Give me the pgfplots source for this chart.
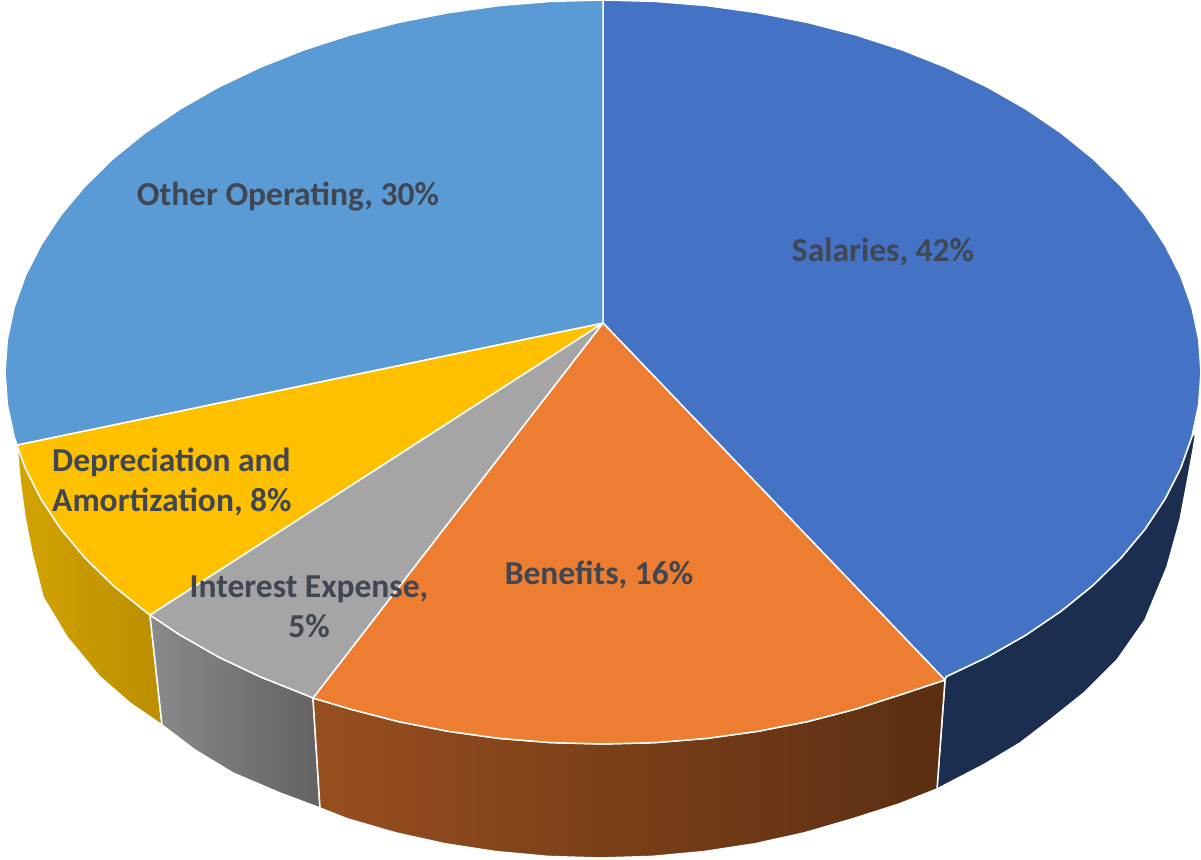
\documentclass[border=0pt]{standalone}
\usepackage{pgfplots}
\pgfplotsset{compat=1.18}
\usepackage{fontspec}
\setmainfont{Carlito}
\definecolor{salaries}{HTML}{4472C4}
\definecolor{benefits}{HTML}{ED7D31}
\definecolor{interest}{HTML}{A5A5A5}
\definecolor{deprec}{HTML}{FFC000}
\definecolor{other}{HTML}{5B9BD5}
\definecolor{salwall}{HTML}{1B2E50}
\definecolor{depwallA}{HTML}{D2A300}
\definecolor{depwallB}{HTML}{BB8E00}
\definecolor{intwallA}{HTML}{8A8A8A}
\definecolor{intwallB}{HTML}{626262}
\definecolor{benwallA}{HTML}{984F1F}
\definecolor{benwallB}{HTML}{5A2E12}
\definecolor{lab}{HTML}{404652}
\tikzset{slice label/.style={font=\fontsize{33.5}{40}\selectfont\bfseries, text=lab, inner sep=0pt}}
\begin{document}
\begin{tikzpicture}
\path[use as bounding box] (0,0) rectangle (1201pt,859pt);
\begin{axis}[
  at={(0,0)}, anchor=south west,
  scale only axis, width=1201pt, height=859pt,
  xmin=0, xmax=1201, ymin=0, ymax=859, y dir=reverse,
  hide axis,
  every axis plot/.append style={line join=round, no markers},
]
% Side walls of the pie, back to front
\addplot[draw=white, line width=1.5pt, fill=salwall] coordinates {
 (945,680) (946,676.7) (987.4,657) (1025.9,635) (1061.1,611.1) (1092.9,585.4)
 (1120.9,558) (1145,529.2) (1164.9,499.2) (1180.6,468.3) (1191.9,436.6) (1196,432)
 (1193,450) (1187,483) (1180,520) (1167,567) (1145,620) (1117,660) (1085,692)
 (1050,720) (1020,743) (985,764) (937,789)
} -- cycle;
\addplot[draw=white, line width=1.5pt, left color=depwallA, right color=depwallB] coordinates {
 (17,445) (25.4,468.3) (41.1,499.2) (61,529.2) (85.1,558) (113.1,585.4) (144.9,611.1)
 (150,615) (162,725) (130,703) (100,677) (67,637) (43,597) (32,553) (25,517) (20,480)
} -- cycle;
\addplot[draw=white, line width=1.5pt, left color=intwallA, right color=intwallB] coordinates {
 (150,615) (180.1,635) (218.6,657) (260,676.7) (304,694.2) (313,698)
 (320,808) (280,793) (233,773) (195,750) (162,725)
} -- cycle;
\addplot[draw=white, line width=1.5pt, left color=benwallA, right color=benwallB] coordinates {
 (313,698) (350.3,709.1) (398.5,721.6) (448.2,731.3) (499.2,738.4) (550.9,742.6)
 (603,744) (655.1,742.6) (706.8,738.4) (757.8,731.3) (807.5,721.6) (855.7,709.1)
 (902,694.2) (945,680) (937,789) (899,804) (852.7,818.8) (804.5,832.8) (754.8,843.8)
 (703.8,851.6) (652.1,856.4) (600,858) (547.9,856.4) (496.2,851.6) (445.2,843.8)
 (395.5,832.8) (347.3,818.8) (320,808)
} -- cycle;
% Top faces of the five slices
\addplot[draw=white, line width=1.5pt, fill=salaries] coordinates {
 (603,323) (603,0) (655.1,1.4) (706.8,5.6) (757.8,12.7) (807.5,22.4) (855.7,34.9)
 (902,49.8) (946,67.3) (987.4,87) (1025.9,109) (1061.1,132.9) (1092.9,158.6)
 (1120.9,186) (1145,214.8) (1164.9,244.8) (1180.6,275.7) (1191.9,307.4) (1198.7,339.6)
 (1201,372) (1198.7,404.4) (1191.9,436.6) (1180.6,468.3) (1164.9,499.2) (1145,529.2)
 (1120.9,558) (1092.9,585.4) (1061.1,611.1) (1025.9,635) (987.4,657) (946,676.7) (945,680)
} -- cycle;
\addplot[draw=white, line width=1.5pt, fill=benefits] coordinates {
 (603,323) (945,680) (902,694.2) (855.7,709.1) (807.5,721.6) (757.8,731.3) (706.8,738.4)
 (655.1,742.6) (603,744) (550.9,742.6) (499.2,738.4) (448.2,731.3) (398.5,721.6)
 (350.3,709.1) (313,698)
} -- cycle;
\addplot[draw=white, line width=1.5pt, fill=interest] coordinates {
 (603,323) (313,698) (304,694.2) (260,676.7) (218.6,657) (180.1,635) (150,615)
} -- cycle;
\addplot[draw=white, line width=1.5pt, fill=deprec] coordinates {
 (603,323) (150,615) (144.9,611.1) (113.1,585.4) (85.1,558) (61,529.2) (41.1,499.2)
 (25.4,468.3) (17,445)
} -- cycle;
\addplot[draw=white, line width=1.5pt, fill=other] coordinates {
 (603,323) (17,445) (14.1,436.6) (7.3,404.4) (5,372) (7.3,339.6) (14.1,307.4) (25.4,275.7)
 (41.1,244.8) (61,214.8) (85.1,186) (113.1,158.6) (144.9,132.9) (180.1,109) (218.6,87)
 (260,67.3) (304,49.8) (350.3,34.9) (398.5,22.4) (448.2,12.7) (499.2,5.6) (550.9,1.4) (603,0)
} -- cycle;
% Slice labels
\node[slice label] at (axis cs:883,252) {Salaries, 42\%};
\node[slice label] at (axis cs:288,197) {Other Operating, 30\%};
\node[slice label] at (axis cs:599,575) {Benefits, 16\%};
\node[slice label, align=center] at (axis cs:309,607) {Interest Expense,\\5\%};
\node[slice label, align=left, anchor=west] at (axis cs:52,482) {Depreciation and\\Amortization, 8\%};
\end{axis}
\end{tikzpicture}
\end{document}
